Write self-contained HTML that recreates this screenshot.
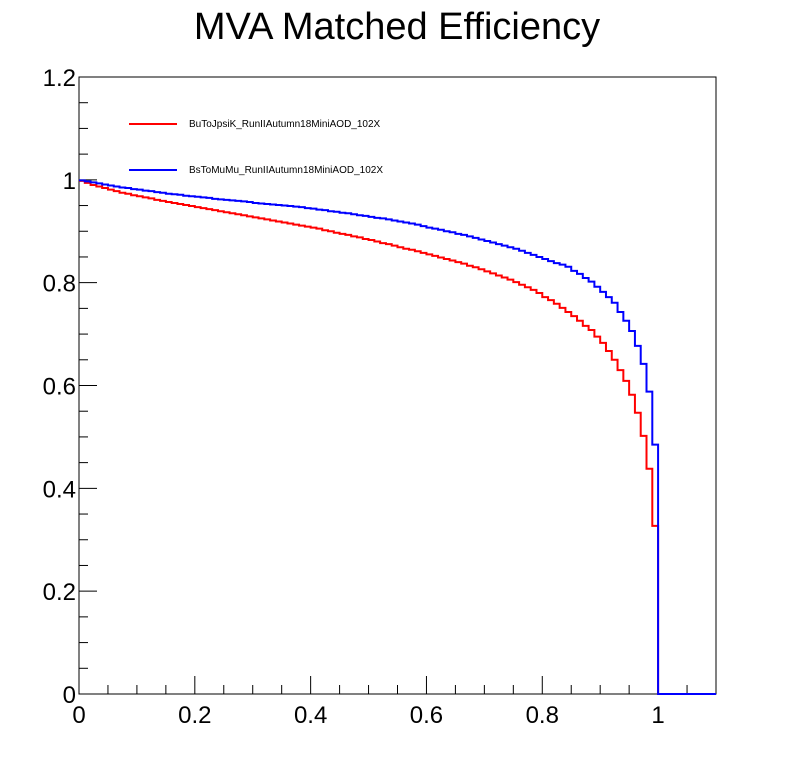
<!DOCTYPE html>
<html><head><meta charset="utf-8"><style>
html,body{margin:0;padding:0;background:#fff;}
svg{display:block;font-family:"Liberation Sans",sans-serif;}
</style></head><body>
<svg id="chart" width="796" height="772">
<rect width="796" height="772" fill="#fff"/>
<text x="397" y="39" font-size="38" text-anchor="middle">MVA Matched Efficiency</text>
<rect x="79" y="77" width="637" height="617" fill="none" stroke="#000" stroke-width="1"/>
<g id="axes"></g>
<g id="series"></g>
<g>
<line x1="129" y1="124" x2="177" y2="124" stroke="#f00" stroke-width="2"/>
<text x="189" y="127" font-size="10">BuToJpsiK_RunIIAutumn18MiniAOD_102X</text>
<line x1="129" y1="170" x2="177" y2="170" stroke="#00f" stroke-width="2"/>
<text x="189" y="173" font-size="10">BsToMuMu_RunIIAutumn18MiniAOD_102X</text>
</g>
</svg>
<script>
const xTicks=[0,0.2,0.4,0.6,0.8,1];
const xTickLabels=["0","0.2","0.4","0.6","0.8","1"];
const yTicks=[0,0.2,0.4,0.6,0.8,1,1.2];
const yTickLabels=["0","0.2","0.4","0.6","0.8","1","1.2"];
const binWidth=0.01;
const redValues=[0.998,0.994,0.990,0.987,0.984,0.981,0.978,0.975,0.973,0.970,
0.968,0.966,0.964,0.961,0.959,0.957,0.955,0.953,0.951,0.949,
0.947,0.945,0.943,0.941,0.939,0.937,0.935,0.933,0.931,0.929,
0.927,0.925,0.923,0.921,0.919,0.917,0.915,0.913,0.911,0.909,
0.907,0.905,0.902,0.900,0.897,0.895,0.893,0.890,0.888,0.885,
0.883,0.880,0.877,0.875,0.872,0.869,0.866,0.864,0.861,0.858,
0.855,0.852,0.849,0.846,0.843,0.840,0.837,0.833,0.830,0.826,
0.822,0.818,0.814,0.810,0.806,0.801,0.796,0.791,0.786,0.780,
0.772,0.766,0.759,0.751,0.743,0.735,0.726,0.716,0.708,0.695,
0.683,0.667,0.650,0.630,0.609,0.582,0.547,0.502,0.438,0.327,
0,0,0,0,0,0,0,0,0,0];
const blueValues=[0.999,0.997,0.995,0.993,0.991,0.989,0.987,0.985,0.984,0.982,
0.981,0.979,0.978,0.976,0.975,0.973,0.972,0.971,0.969,0.968,
0.967,0.966,0.965,0.963,0.962,0.961,0.960,0.959,0.958,0.957,
0.955,0.954,0.953,0.952,0.951,0.950,0.949,0.948,0.947,0.945,
0.944,0.942,0.941,0.939,0.938,0.936,0.935,0.933,0.931,0.930,
0.928,0.926,0.925,0.923,0.921,0.919,0.917,0.915,0.913,0.910,
0.907,0.905,0.903,0.900,0.898,0.895,0.893,0.890,0.887,0.884,
0.881,0.878,0.875,0.872,0.869,0.866,0.862,0.858,0.854,0.850,
0.846,0.842,0.838,0.835,0.831,0.823,0.817,0.809,0.802,0.792,
0.782,0.772,0.761,0.743,0.726,0.706,0.677,0.642,0.588,0.485,
0,0,0,0,0,0,0,0,0,0];
const NS="http://www.w3.org/2000/svg";
const X0=79,X1=716,Y0=694,Y1=77,xMax=1.1,yMax=1.2;
function sx(v){return X0+(X1-X0)*v/xMax;}
function sy(v){return Y0-(Y0-Y1)*v/yMax;}
function mk(tag,attrs,parent){const e=document.createElementNS(NS,tag);for(const k in attrs)e.setAttribute(k,attrs[k]);parent.appendChild(e);return e;}
const axes=document.getElementById('axes');
for(let i=0;i<=22;i++){const v=i*0.05;const major=i%4===0;
 const t=mk('line',{x1:sx(v),x2:sx(v),y1:Y0,y2:Y0-(major?18:9),stroke:'#000','stroke-width':1},axes);
 
 }
for(let i=0;i<=24;i++){const v=i*0.05;const major=i%4===0;
 const t=mk('line',{x1:X0,x2:X0+(major?18:9),y1:sy(v),y2:sy(v),stroke:'#000','stroke-width':1},axes);
 
 }
xTicks.forEach((v,i)=>{const t=mk('text',{x:sx(v),y:723,'font-size':24,'text-anchor':'middle'},axes);t.textContent=xTickLabels[i];
 
 });
yTicks.forEach((v,i)=>{const t=mk('text',{x:76,y:sy(v)+9,'font-size':24,'text-anchor':'end'},axes);t.textContent=yTickLabels[i];
 
 });
function stepPath(vals){let d='M'+sx(0)+','+sy(vals[0]);
 vals.forEach((v,i)=>{const a=sx(i*binWidth),b=sx((i+1)*binWidth);d+=' L'+a+','+sy(v)+' L'+b+','+sy(v);});
 return d;}
const g=document.getElementById('series');
const r=mk('path',{d:stepPath(redValues),fill:'none',stroke:'#f00','stroke-width':2},g);


const b=mk('path',{d:stepPath(blueValues),fill:'none',stroke:'#00f','stroke-width':2},g);


</script>
</body></html>
